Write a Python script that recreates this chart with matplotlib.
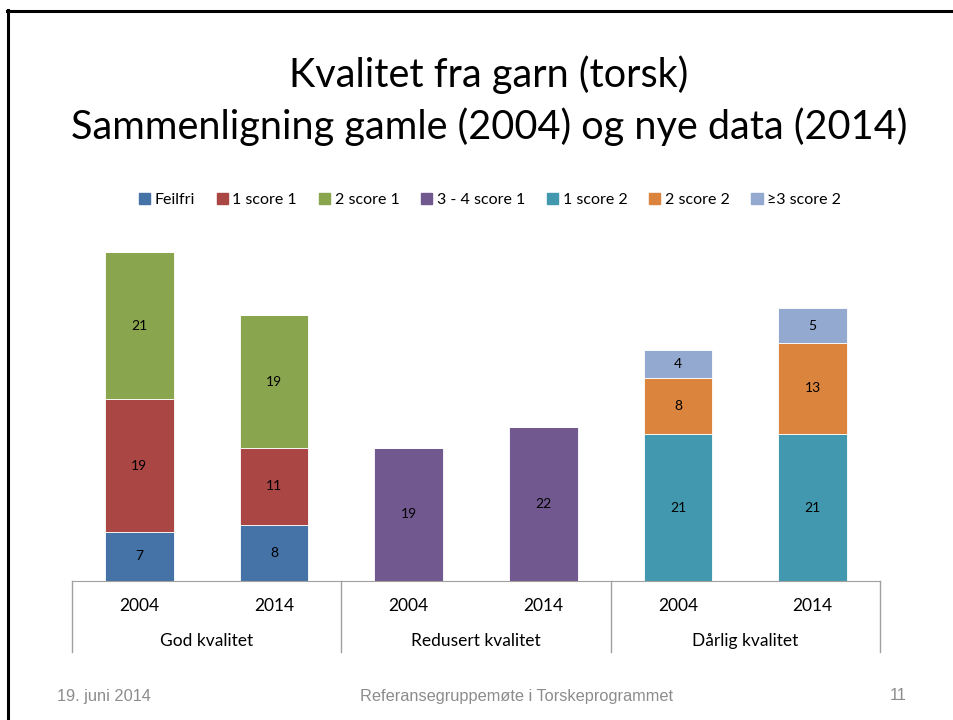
import matplotlib.pyplot as plt
import matplotlib.transforms as mtransforms
from matplotlib.lines import Line2D
import numpy as np

# data
groups = ['God kvalitet', 'Redusert kvalitet', 'Dårlig kvalitet']
years = ['2004', '2014']
series = ['Feilfri', '1 score 1', '2 score 1', '3 - 4 score 1',
          '1 score 2', '2 score 2', '≥3 score 2']
colors = ['#4572A7', '#AA4643', '#89A54E', '#71588F',
          '#4198AF', '#DB843D', '#93A9CF']
# values per bar (6 bars: group x year), one list per series
feilfri = [7, 8, 0, 0, 0, 0]
score1_1 = [19, 11, 0, 0, 0, 0]
score1_2 = [21, 19, 0, 0, 0, 0]
score1_34 = [0, 0, 19, 22, 0, 0]
score2_1 = [0, 0, 0, 0, 21, 21]
score2_2 = [0, 0, 0, 0, 8, 13]
score2_3 = [0, 0, 0, 0, 4, 5]
values = [feilfri, score1_1, score1_2, score1_34, score2_1, score2_2, score2_3]

plt.rcParams['font.family'] = ['Lato', 'DejaVu Sans']

fig = plt.figure(figsize=(9.54, 7.2), dpi=100)
ax = fig.add_axes([72 / 954, 1 - 581 / 720, 808 / 954, 350 / 720])

x = np.arange(6)
bottom = np.zeros(6)
for name, vals, col in zip(series, values, colors):
    vals = np.array(vals, dtype=float)
    ax.bar(x, vals, 0.51, bottom=bottom, color=col, label=name,
           edgecolor='white', linewidth=0.6)
    for xi, v, b in zip(x, vals, bottom):
        if v > 0:
            ax.text(xi, b + v / 2, f'{int(v)}', ha='center', va='center',
                    fontsize=10, color='black')
    bottom += vals

ax.set_xlim(-0.5, 5.5)
ax.set_ylim(0, 50)
for s in ['top', 'right', 'left']:
    ax.spines[s].set_visible(False)
ax.spines['bottom'].set_color('#A0A0A0')
ax.set_yticks([])
ax.set_xticks([])

# multi-level category axis
trans = mtransforms.blended_transform_factory(ax.transData, ax.transAxes)
px = 1 / 350
for i in range(6):
    ax.text(x[i], -25 * px, years[i % 2], transform=trans, ha='center',
            va='center', fontsize=12.5)
for g, name in enumerate(groups):
    ax.text(2 * g + 0.5, -60 * px, name, transform=trans, ha='center',
            va='center', fontsize=12.5)
for xs in [-0.5, 1.5, 3.5, 5.5]:
    ax.add_line(Line2D([xs, xs], [0, -71 * px], transform=trans,
                       color='#A0A0A0', lw=1, clip_on=False))

# legend
handles = [plt.Rectangle((0, 0), 1, 1, color=c) for c in colors]
fig.legend(handles, series, loc='center', bbox_to_anchor=(490 / 954, 1 - 200 / 720),
           ncol=7, frameon=False, fontsize=11.5, handlelength=0.7,
           handleheight=0.7, handletextpad=0.3, columnspacing=1.35)

# title
fig.text(489 / 954, 1 - 75 / 720, 'Kvalitet fra garn (torsk)', ha='center',
         va='center', fontsize=28.5)
fig.text(489 / 954, 1 - 127 / 720, 'Sammenligning gamle (2004) og nye data (2014)',
         ha='center', va='center', fontsize=28.5)

# footer
foot = dict(fontsize=11.8, color='#8C8C8C', family='Liberation Sans', va='center')
fig.text(57 / 954, 1 - 696 / 720, '19. juni 2014', ha='left', **foot)
fig.text(517 / 954, 1 - 696 / 720, 'Referansegruppemøte i Torskeprogrammet', ha='center', **foot)
fig.text(907 / 954, 1 - 696 / 720, '11', ha='right', **foot)

# slide border
fig.add_artist(Line2D([8.5 / 954, 8.5 / 954], [0, 1 - 10 / 720], color='black', lw=2.2))
fig.add_artist(Line2D([7.5 / 954, 1], [1 - 10.5 / 720, 1 - 10.5 / 720], color='black', lw=2.2))

fig.savefig('out.png', dpi=100)
